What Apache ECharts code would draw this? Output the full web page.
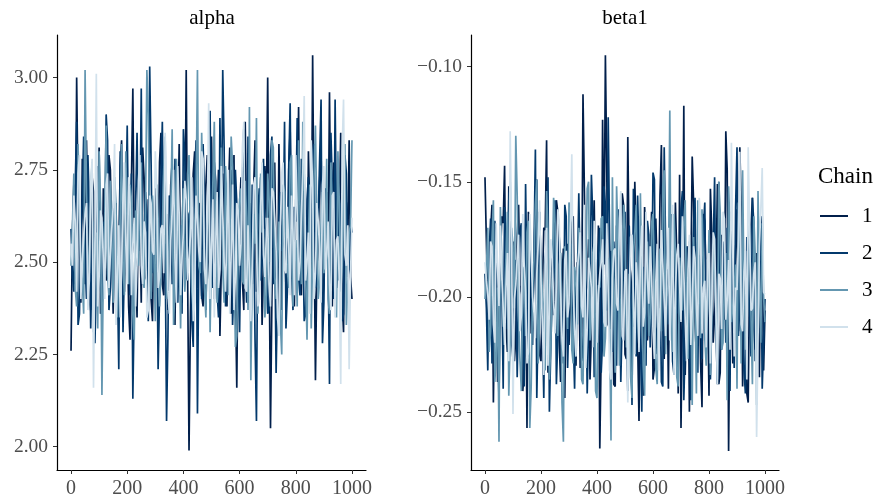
<!DOCTYPE html>
<html>
<head>
<meta charset="utf-8">
<script src="https://cdn.jsdelivr.net/npm/echarts@6/dist/echarts.min.js"></script>
<style>html,body{margin:0;padding:0;background:#fff}#c{width:882px;height:499px}</style>
</head>
<body>
<div id="c"></div>
<script>
// Draws are read at every 5th iteration: "even" samples at 0,10,...,1000 and "odd" samples at 5,15,...,995
const iterEven = Array.from({length: 101}, (_, i) => i * 10);
const iterOdd = Array.from({length: 100}, (_, i) => i * 10 + 5);
const chainNames = ['1','2','3','4'];
const panelTitles = ['alpha','beta1'];
const xTicks = [0,200,400,600,800,1000];
const alphaTicks = [2.00,2.25,2.50,2.75,3.00];
const betaTicks = [-0.25,-0.20,-0.15,-0.10];

const alpha1 = [2.26,2.71,3.00,2.55,2.78,2.44,2.62,2.37,2.69,2.52,2.81,2.40,2.58,2.47,2.75,2.36,2.66,2.53,2.83,2.42,2.61,2.29,2.97,2.50,2.68,2.39,2.73,2.45,2.57,2.34,2.70,2.48,2.85,2.41,2.63,2.52,2.77,2.33,2.60,2.46,2.72,3.02,1.99,2.58,2.80,2.43,2.65,2.38,2.71,2.51,2.84,2.40,2.62,2.30,2.74,2.47,2.68,2.36,2.79,2.16,2.64,2.45,2.88,2.39,2.56,2.70,2.42,2.61,2.33,2.76,3.00,2.05,2.63,2.48,2.82,2.37,2.59,2.44,2.86,2.50,2.67,2.92,2.41,2.74,2.35,2.62,3.06,2.18,2.57,2.81,2.44,2.69,2.96,2.38,2.72,2.49,2.85,2.31,2.66,2.83,2.40];
const alpha1Odd = [2.58,2.44,2.67,2.39,2.61,2.83,2.48,2.73,2.41,2.64,
2.36,2.70,2.45,2.79,2.55,2.62,2.43,2.76,2.49,2.68,
2.38,2.72,2.54,2.35,2.60,2.81,2.46,2.67,2.40,2.63,
2.52,2.77,2.44,2.59,2.37,2.71,2.50,2.64,2.82,2.39,
2.55,2.47,2.36,2.74,2.51,2.66,2.41,2.56,2.79,2.44,
2.62,2.53,2.75,2.49,2.60,2.38,2.81,2.55,2.42,2.59,
2.73,2.37,2.58,2.66,2.44,2.83,2.50,2.73,2.47,2.62,
2.54,2.40,2.77,2.35,2.59,2.69,2.43,2.75,2.52,2.38,
2.61,2.46,2.70,2.53,2.80,2.45,2.60,2.48,2.72,2.39,
2.65,2.51,2.57,2.77,2.43,2.63,2.40,2.68,2.54,2.46];
const alpha2 = [2.59,2.42,2.88,2.36,2.67,2.50,2.79,2.32,2.61,2.45,2.74,2.38,2.56,2.83,2.43,2.64,2.35,2.21,2.70,2.49,2.87,2.41,2.13,2.66,2.53,2.97,2.44,2.62,3.03,2.47,2.58,2.21,2.72,2.51,2.07,2.68,2.44,2.78,2.39,2.60,2.86,2.46,2.63,2.34,2.71,2.09,2.55,2.82,2.37,2.64,2.48,2.77,2.42,2.89,3.02,2.38,2.59,2.75,2.45,2.66,2.31,2.73,2.52,2.84,2.40,2.62,2.07,2.70,2.49,2.58,2.36,2.79,2.44,2.20,2.65,2.53,2.88,2.42,2.93,2.37,2.61,2.46,2.78,2.34,2.67,2.51,2.80,2.43,2.62,2.94,2.39,2.57,2.17,2.71,2.94,2.45,2.63,2.36,2.74,2.48,2.58];
const alpha2Odd = [2.47,2.71,2.33,2.58,2.84,2.40,2.65,2.52,2.28,2.76,
2.43,2.61,2.90,2.37,2.55,2.70,2.46,2.80,2.31,2.63,
2.52,2.74,2.39,2.85,2.58,2.44,2.69,2.34,2.77,2.50,
2.62,2.41,2.88,2.55,2.30,2.67,2.48,2.73,2.57,2.36,
2.79,2.45,2.64,2.27,2.83,2.53,2.40,2.68,2.59,2.91,
2.43,2.72,2.35,2.56,2.81,2.47,2.66,2.33,2.75,2.50,
2.60,2.86,2.39,2.54,2.71,2.29,2.63,2.45,2.78,2.52,
2.37,2.84,2.57,2.42,2.69,2.55,2.32,2.76,2.48,2.65,
2.89,2.41,2.59,2.36,2.73,2.50,2.82,2.44,2.62,2.28,
2.70,2.53,2.85,2.40,2.58,2.67,2.34,2.79,2.46,2.61];
const alpha3 = [2.49,2.74,2.38,2.63,2.45,3.02,2.52,2.69,2.31,2.58,2.80,2.14,2.61,2.47,2.72,2.39,2.66,2.53,2.82,2.41,2.59,2.71,2.36,2.64,2.49,2.77,2.43,3.02,2.55,2.68,2.34,2.62,2.46,2.75,2.40,2.57,2.86,2.44,2.65,2.32,2.70,2.51,2.79,2.42,2.60,3.02,2.47,2.66,2.35,2.73,2.54,2.88,2.39,2.62,2.48,2.76,2.41,2.84,2.53,2.30,2.67,2.45,2.72,2.37,2.18,2.63,2.89,2.46,2.58,2.35,2.74,2.50,2.81,2.40,2.61,2.25,2.69,2.48,2.77,2.38,2.56,2.83,2.44,2.65,2.29,2.71,2.52,2.87,2.40,2.60,2.47,2.78,2.36,2.64,2.51,2.80,2.42,2.67,2.33,2.58,2.83];
const alpha3Odd = [2.60,2.43,2.82,2.51,2.36,2.69,2.47,2.77,2.55,2.32,
2.66,2.48,2.87,2.41,2.58,2.73,2.35,2.62,2.50,2.80,
2.44,2.67,2.29,2.56,2.75,2.46,2.63,2.90,2.40,2.53,
2.71,2.38,2.59,2.84,2.45,2.64,2.33,2.78,2.52,2.61,
2.42,2.74,2.57,2.37,2.68,2.49,2.85,2.43,2.60,2.31,
2.72,2.54,2.45,2.81,2.39,2.65,2.51,2.76,2.27,2.58,
2.70,2.44,2.62,2.92,2.48,2.55,2.36,2.74,2.59,2.41,
2.67,2.83,2.46,2.53,2.34,2.71,2.57,2.43,2.79,2.50,
2.38,2.64,2.88,2.47,2.56,2.32,2.73,2.61,2.45,2.69,
2.52,2.40,2.77,2.58,2.35,2.66,2.49,2.82,2.44,2.60];
const alpha4 = [2.55,2.68,2.42,2.79,2.50,2.63,2.37,2.71,2.16,3.01,2.46,2.62,2.40,2.74,2.52,2.65,2.33,2.60,2.48,2.77,2.44,2.66,2.55,2.38,2.72,2.49,2.61,2.35,2.68,2.53,2.80,2.43,2.59,2.47,2.70,2.36,2.64,2.51,2.76,2.41,2.58,2.67,2.45,2.73,2.39,2.62,2.50,2.78,2.44,2.93,2.54,2.35,2.69,2.48,2.63,2.42,2.75,2.52,2.37,2.66,2.49,2.81,2.43,2.60,2.34,2.71,2.55,2.40,2.77,2.46,2.62,2.38,2.69,2.53,2.30,2.74,2.48,2.65,2.41,2.58,2.79,2.45,2.63,2.95,2.50,2.36,2.70,2.47,2.61,2.39,2.76,2.52,2.44,2.68,2.35,2.57,2.17,2.94,2.49,2.21,2.62];
const alpha4Odd = [2.49,2.61,2.74,2.40,2.57,2.66,2.45,2.78,2.53,2.38,
2.64,2.50,2.71,2.43,2.59,2.82,2.47,2.35,2.68,2.55,
2.73,2.41,2.62,2.50,2.79,2.44,2.58,2.37,2.66,2.52,
2.70,2.46,2.60,2.85,2.42,2.56,2.75,2.39,2.63,2.51,
2.72,2.45,2.57,2.34,2.68,2.53,2.80,2.48,2.61,2.40,
2.67,2.54,2.43,2.76,2.50,2.59,2.36,2.71,2.46,2.64,
2.55,2.88,2.42,2.60,2.49,2.73,2.38,2.65,2.52,2.57,
2.44,2.70,2.62,2.35,2.59,2.77,2.47,2.54,2.68,2.41,
2.63,2.50,2.74,2.45,2.58,2.83,2.40,2.66,2.53,2.71,
2.48,2.61,2.37,2.69,2.56,2.44,2.80,2.52,2.60,2.47];

const beta1_1 = [-0.148,-0.205,-0.172,-0.246,-0.183,-0.211,-0.165,-0.143,-0.224,-0.191,-0.176,-0.218,-0.160,-0.199,-0.232,-0.257,-0.181,-0.207,-0.157,-0.194,-0.228,-0.170,-0.132,-0.214,-0.186,-0.202,-0.163,-0.237,-0.179,-0.196,-0.221,-0.168,-0.209,-0.185,-0.231,-0.112,-0.198,-0.175,-0.216,-0.158,-0.204,-0.266,-0.123,-0.095,-0.212,-0.180,-0.238,-0.169,-0.201,-0.155,-0.225,-0.1305,-0.190,-0.213,-0.174,-0.254,-0.196,-0.161,-0.219,-0.183,-0.236,-0.166,-0.205,-0.134,-0.227,-0.188,-0.171,-0.215,-0.159,-0.242,-0.257,-0.117,-0.200,-0.250,-0.139,-0.211,-0.176,-0.229,-0.164,-0.197,-0.243,-0.172,-0.208,-0.151,-0.233,-0.186,-0.128,-0.267,-0.182,-0.219,-0.162,-0.135,-0.239,-0.193,-0.246,-0.170,-0.214,-0.181,-0.235,-0.165,-0.206];
const beta1_1Odd = [-0.176,-0.221,-0.160,-0.199,-0.237,-0.185,-0.168,-0.212,-0.152,-0.203,
-0.228,-0.174,-0.195,-0.241,-0.181,-0.163,-0.216,-0.189,-0.149,-0.225,
-0.197,-0.171,-0.233,-0.183,-0.208,-0.158,-0.219,-0.192,-0.244,-0.177,
-0.202,-0.165,-0.230,-0.187,-0.211,-0.154,-0.196,-0.236,-0.179,-0.207,
-0.169,-0.224,-0.186,-0.146,-0.214,-0.193,-0.239,-0.172,-0.205,-0.160,
-0.227,-0.184,-0.199,-0.150,-0.218,-0.190,-0.243,-0.175,-0.209,-0.163,
-0.231,-0.188,-0.156,-0.213,-0.198,-0.240,-0.170,-0.222,-0.182,-0.147,
-0.206,-0.234,-0.178,-0.194,-0.159,-0.226,-0.185,-0.248,-0.167,-0.201,
-0.153,-0.220,-0.191,-0.238,-0.173,-0.210,-0.145,-0.197,-0.229,-0.180,
-0.215,-0.161,-0.204,-0.242,-0.187,-0.157,-0.223,-0.195,-0.172,-0.232];
const beta1_2 = [-0.190,-0.232,-0.166,-0.208,-0.179,-0.245,-0.193,-0.161,-0.214,-0.150,-0.227,-0.184,-0.203,-0.168,-0.239,-0.196,-0.172,-0.221,-0.136,-0.210,-0.187,-0.244,-0.175,-0.250,-0.199,-0.158,-0.218,-0.183,-0.229,-0.165,-0.206,-0.177,-0.240,-0.192,-0.155,-0.224,-0.181,-0.212,-0.147,-0.235,-0.189,-0.170,-0.219,-0.160,-0.122,-0.201,-0.176,-0.230,-0.185,-0.209,-0.163,-0.241,-0.194,-0.153,-0.226,-0.180,-0.250,-0.204,-0.167,-0.222,-0.146,-0.213,-0.188,-0.237,-0.135,-0.198,-0.174,-0.228,-0.183,-0.207,-0.162,-0.245,-0.178,-0.216,-0.190,-0.157,-0.233,-0.195,-0.170,-0.225,-0.182,-0.210,-0.148,-0.238,-0.199,-0.176,-0.220,-0.187,-0.163,-0.231,-0.135,-0.204,-0.179,-0.242,-0.195,-0.226,-0.168,-0.213,-0.189,-0.240,-0.201];
const beta1_2Odd = [-0.205,-0.181,-0.229,-0.167,-0.213,-0.194,-0.240,-0.176,-0.158,-0.220,
-0.188,-0.235,-0.171,-0.203,-0.151,-0.226,-0.197,-0.180,-0.244,-0.163,
-0.210,-0.185,-0.148,-0.222,-0.192,-0.238,-0.174,-0.207,-0.160,-0.231,
-0.183,-0.216,-0.196,-0.155,-0.228,-0.178,-0.242,-0.200,-0.166,-0.214,
-0.189,-0.233,-0.152,-0.206,-0.175,-0.224,-0.193,-0.162,-0.237,-0.184,
-0.209,-0.169,-0.247,-0.198,-0.156,-0.218,-0.187,-0.230,-0.173,-0.202,
-0.149,-0.225,-0.191,-0.239,-0.177,-0.212,-0.164,-0.234,-0.186,-0.208,
-0.154,-0.221,-0.195,-0.245,-0.168,-0.204,-0.182,-0.227,-0.159,-0.199,
-0.236,-0.179,-0.215,-0.150,-0.223,-0.190,-0.170,-0.241,-0.201,-0.161,
-0.217,-0.185,-0.232,-0.174,-0.207,-0.157,-0.228,-0.193,-0.165,-0.219];
const beta1_3 = [-0.201,-0.170,-0.215,-0.158,-0.226,-0.263,-0.184,-0.205,-0.163,-0.219,-0.178,-0.130,-0.210,-0.241,-0.187,-0.172,-0.257,-0.196,-0.160,-0.229,-0.182,-0.207,-0.154,-0.236,-0.194,-0.168,-0.217,-0.181,-0.263,-0.200,-0.159,-0.223,-0.187,-0.212,-0.175,-0.238,-0.192,-0.150,-0.208,-0.177,-0.244,-0.196,-0.165,-0.218,-0.183,-0.2625,-0.204,-0.152,-0.230,-0.189,-0.171,-0.214,-0.235,-0.181,-0.160,-0.222,-0.197,-0.243,-0.176,-0.209,-0.164,-0.231,-0.186,-0.215,-0.145,-0.200,-0.119,-0.224,-0.180,-0.239,-0.193,-0.168,-0.212,-0.176,-0.247,-0.201,-0.158,-0.218,-0.185,-0.230,-0.171,-0.206,-0.190,-0.236,-0.163,-0.220,-0.181,-0.152,-0.211,-0.196,-0.240,-0.174,-0.145,-0.223,-0.188,-0.208,-0.165,-0.247,-0.192,-0.168,-0.211];
const beta1_3Odd = [-0.188,-0.224,-0.175,-0.237,-0.196,-0.161,-0.213,-0.182,-0.243,-0.170,
-0.205,-0.156,-0.228,-0.191,-0.217,-0.167,-0.239,-0.184,-0.149,-0.210,
-0.198,-0.232,-0.173,-0.221,-0.157,-0.203,-0.186,-0.246,-0.178,-0.214,
-0.163,-0.229,-0.192,-0.170,-0.236,-0.200,-0.153,-0.219,-0.181,-0.241,
-0.195,-0.166,-0.226,-0.187,-0.211,-0.148,-0.233,-0.176,-0.202,-0.160,
-0.222,-0.190,-0.244,-0.172,-0.208,-0.155,-0.230,-0.185,-0.217,-0.168,
-0.199,-0.238,-0.179,-0.152,-0.225,-0.194,-0.212,-0.164,-0.235,-0.183,
-0.206,-0.158,-0.227,-0.197,-0.174,-0.242,-0.189,-0.162,-0.218,-0.201,
-0.234,-0.177,-0.209,-0.150,-0.223,-0.193,-0.245,-0.171,-0.204,-0.186,
-0.159,-0.229,-0.196,-0.216,-0.169,-0.238,-0.182,-0.154,-0.220,-0.200];
const beta1_4 = [-0.185,-0.199,-0.176,-0.212,-0.168,-0.204,-0.190,-0.221,-0.181,-0.128,-0.251,-0.195,-0.173,-0.208,-0.186,-0.229,-0.164,-0.200,-0.218,-0.177,-0.193,-0.234,-0.170,-0.205,-0.183,-0.216,-0.162,-0.197,-0.226,-0.180,-0.203,-0.138,-0.214,-0.188,-0.172,-0.209,-0.231,-0.183,-0.196,-0.167,-0.220,-0.190,-0.175,-0.213,-0.198,-0.236,-0.180,-0.203,-0.166,-0.217,-0.189,-0.246,-0.174,-0.201,-0.185,-0.224,-0.169,-0.207,-0.192,-0.178,-0.215,-0.194,-0.232,-0.171,-0.202,-0.186,-0.219,-0.160,-0.198,-0.177,-0.211,-0.189,-0.228,-0.173,-0.205,-0.183,-0.217,-0.166,-0.196,-0.222,-0.181,-0.203,-0.175,-0.238,-0.192,-0.163,-0.210,-0.184,-0.133,-0.226,-0.197,-0.137,-0.215,-0.180,-0.135,-0.206,-0.190,-0.261,-0.178,-0.144,-0.199];
const beta1_4Odd = [-0.193,-0.210,-0.178,-0.220,-0.187,-0.169,-0.205,-0.196,-0.228,-0.174,
-0.201,-0.183,-0.215,-0.164,-0.198,-0.224,-0.180,-0.207,-0.190,-0.158,
-0.212,-0.186,-0.230,-0.175,-0.202,-0.194,-0.167,-0.218,-0.184,-0.209,
-0.171,-0.197,-0.226,-0.181,-0.204,-0.160,-0.214,-0.189,-0.222,-0.176,
-0.199,-0.185,-0.211,-0.168,-0.232,-0.192,-0.179,-0.206,-0.154,-0.219,
-0.188,-0.200,-0.173,-0.225,-0.195,-0.183,-0.213,-0.163,-0.203,-0.191,
-0.227,-0.177,-0.208,-0.186,-0.217,-0.170,-0.199,-0.234,-0.182,-0.195,
-0.165,-0.210,-0.188,-0.221,-0.178,-0.204,-0.157,-0.216,-0.193,-0.184,
-0.229,-0.172,-0.207,-0.190,-0.214,-0.166,-0.201,-0.223,-0.181,-0.196,
-0.175,-0.212,-0.189,-0.236,-0.170,-0.205,-0.185,-0.219,-0.162,-0.198];

const chainColors = ['#011f4b','#03396c','#6497b1','#d1e1ec'];
const FONT = '"Liberation Serif","DejaVu Serif",serif';

const alphaChains = [[alpha1, alpha1Odd], [alpha2, alpha2Odd], [alpha3, alpha3Odd], [alpha4, alpha4Odd]];
const betaChains = [[beta1_1, beta1_1Odd], [beta1_2, beta1_2Odd], [beta1_3, beta1_3Odd], [beta1_4, beta1_4Odd]];

// interleave even and odd draws in iteration order
function pairs(even, odd){
  const out = [];
  for (let i = 0; i < even.length; i++) {
    out.push([iterEven[i], even[i]]);
    if (i < odd.length) out.push([iterOdd[i], odd[i]]);
  }
  return out;
}
function fmtNum(v){ const s = Math.abs(v).toFixed(2); return v < 0 ? '\u2212' + s : s; }

const series = [];
[alphaChains, betaChains].forEach((chains, p) => {
  chains.forEach((vals, c) => {
    series.push({
      name: chainNames[c], type: 'line', xAxisIndex: p, yAxisIndex: p,
      data: pairs(vals[0], vals[1]), showSymbol: false, symbol: 'none',
      lineStyle: { color: chainColors[c], width: 1.7 },
      itemStyle: { color: chainColors[c] },
      animation: false, silent: true
    });
  });
});

function xAxis(g){
  return {
    type: 'value', gridIndex: g, min: -49.95, max: 1049.95,
    axisLine: { show: true, lineStyle: { color: '#000', width: 1.2 } },
    axisTick: { show: true, length: 4, lineStyle: { color: '#333' }, customValues: xTicks },
    axisLabel: { color: '#4d4d4d', fontFamily: FONT, fontSize: 20, margin: 9, customValues: xTicks, formatter: v => String(v) },
    splitLine: { show: false }
  };
}
function yAxis(g, min, max, ticks){
  return {
    type: 'value', gridIndex: g, min: min, max: max,
    axisLine: { show: true, onZero: false, lineStyle: { color: '#000', width: 1.2 } },
    axisTick: { show: true, length: 4, lineStyle: { color: '#333' }, customValues: ticks },
    axisLabel: { color: '#4d4d4d', fontFamily: FONT, fontSize: 19.5, margin: 9, customValues: ticks, formatter: fmtNum },
    splitLine: { show: false }
  };
}

const chart = echarts.init(document.getElementById('c'), null, { renderer: 'canvas' });
chart.setOption({
  backgroundColor: '#fff',
  animation: false,
  title: [
    { text: panelTitles[0], left: 207, top: 3, textAlign: 'center', textStyle: { fontFamily: FONT, fontSize: 21, fontWeight: 'normal', color: '#000' } },
    { text: panelTitles[1], left: 620, top: 3, textAlign: 'center', textStyle: { fontFamily: FONT, fontSize: 21, fontWeight: 'normal', color: '#000' } },
    { text: 'Chain', left: 813, top: 160, textStyle: { fontFamily: FONT, fontSize: 23, fontWeight: 'normal', color: '#000' } }
  ],
  legend: {
    orient: 'vertical', left: 820, top: 205, padding: 0,
    data: chainNames.map(n => ({ name: n, icon: 'rect' })),
    itemWidth: 28, itemHeight: 2, itemGap: 15,
    textStyle: { fontFamily: FONT, fontSize: 21, color: '#000', lineHeight: 22, padding: [0,0,0,9] },
    selectedMode: false
  },
  grid: [
    { left: 57, top: 35, width: 309, height: 435 },
    { left: 471, top: 35, width: 308, height: 435 }
  ],
  xAxis: [xAxis(0), xAxis(1)],
  yAxis: [yAxis(0, 1.937, 3.115, alphaTicks), yAxis(1, -0.2753, -0.0862, betaTicks)],
  series: series
});
</script>
</body>
</html>
